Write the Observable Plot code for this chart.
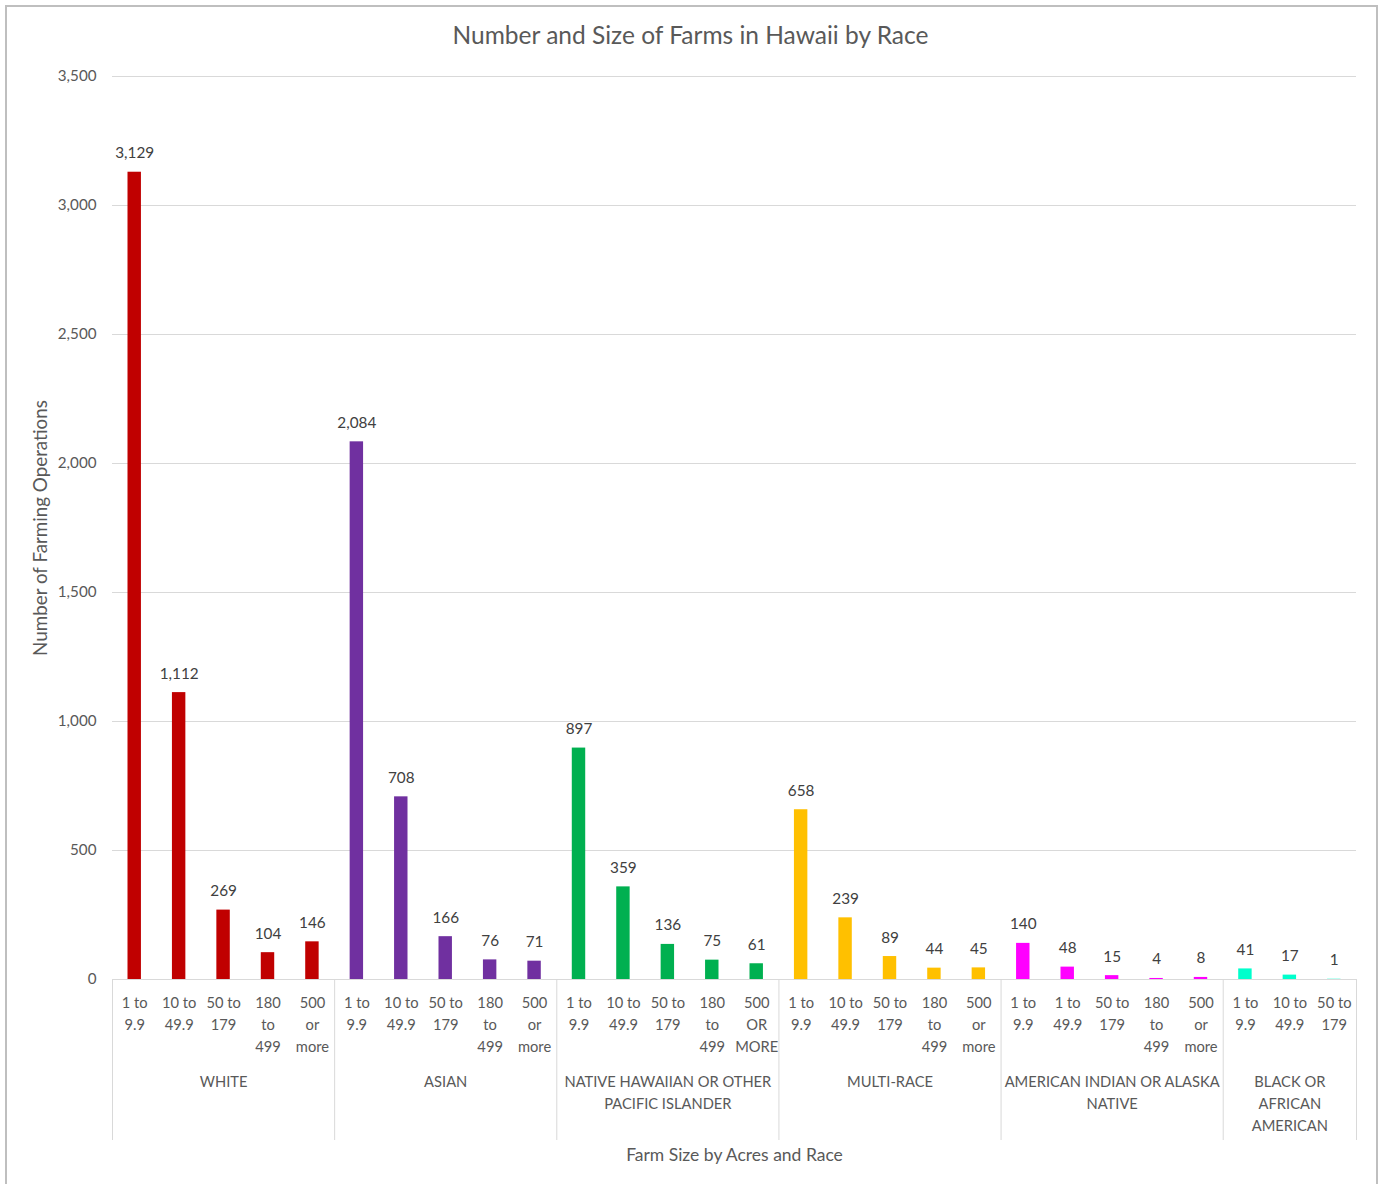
<!DOCTYPE html>
<html>
<head>
<meta charset="utf-8">
<script src="https://cdn.jsdelivr.net/npm/d3@7"></script>
<script src="https://cdn.jsdelivr.net/npm/@observablehq/plot@0.6"></script>
<style>
  html, body { margin: 0; padding: 0; background: #fff; }
  body { width: 1381px; height: 1184px; position: relative; overflow: hidden; font-family: Lato, "Open Sans", sans-serif; }
  #frame { position: absolute; left: 5px; top: 5px; width: 1373px; height: 1200px; border: 2px solid #bfbfbf; box-sizing: border-box; }
  #title { position: absolute; left: 0; top: 20px; width: 1381px; text-align: center; font-size: 24.5px; color: #595959; line-height: 30px; }
  #chart { position: absolute; left: 0; top: 60px; }
</style>
</head>
<body>
<div id="frame"></div>
<div id="title">Number and Size of Farms in Hawaii by Race</div>
<div id="chart"></div>
<script>
const groups = ["WHITE", "ASIAN", "NATIVE HAWAIIAN OR OTHER\nPACIFIC ISLANDER", "MULTI-RACE", "AMERICAN INDIAN OR ALASKA\nNATIVE", "BLACK OR\nAFRICAN\nAMERICAN"];
const groupColors = ["#c00000", "#7030a0", "#00b050", "#ffc000", "#ff00ff", "#00ffcc"];
const sizeLabels = [
  ["1 to\n9.9", "10 to\n49.9", "50 to\n179", "180\nto\n499", "500\nor\nmore"],
  ["1 to\n9.9", "10 to\n49.9", "50 to\n179", "180\nto\n499", "500\nor\nmore"],
  ["1 to\n9.9", "10 to\n49.9", "50 to\n179", "180\nto\n499", "500\nOR\nMORE"],
  ["1 to\n9.9", "10 to\n49.9", "50 to\n179", "180\nto\n499", "500\nor\nmore"],
  ["1 to\n9.9", "1 to\n49.9", "50 to\n179", "180\nto\n499", "500\nor\nmore"],
  ["1 to\n9.9", "10 to\n49.9", "50 to\n179"]
];
const values = [
  [3129, 1112, 269, 104, 146],
  [2084, 708, 166, 76, 71],
  [897, 359, 136, 75, 61],
  [658, 239, 89, 44, 45],
  [140, 48, 15, 4, 8],
  [41, 17, 1]
];
const yTicks = [0, 500, 1000, 1500, 2000, 2500, 3000, 3500];
const yTitle = "Number of Farming Operations";
const xTitle = "Farm Size by Acres and Race";

// Build a flat table from the arrays
const data = [];
const boundaries = [0];
const groupCenters = [];
let idx = 0;
groups.forEach((g, gi) => {
  const start = idx;
  values[gi].forEach((v, si) => {
    data.push({i: idx, group: g, color: groupColors[gi], label: sizeLabels[gi][si], value: v});
    idx++;
  });
  boundaries.push(idx);
  groupCenters.push({pos: (start + idx) / 2, label: g});
});
const labelByCenter = new Map(data.map(d => [d.i + 0.5, d.label]));
const groupByCenter = new Map(groupCenters.map(d => [d.pos, d.label]));

const textColor = "#595959";
const chart = Plot.plot({
  width: 1381,
  height: 1124,
  marginLeft: 112,
  marginRight: 25,
  marginTop: 16,
  marginBottom: 205,
  style: {fontFamily: "Lato, 'Open Sans', sans-serif", fontSize: "15px", color: textColor, background: "transparent"},
  x: {type: "linear", domain: [0, idx], axis: null},
  y: {domain: [0, 3500], axis: null},
  marks: [
    Plot.gridY(yTicks, {stroke: "#d9d9d9", strokeOpacity: 1, strokeWidth: 1.2}),
    Plot.axisY(yTicks, {tickSize: 0, tickPadding: 16, tickFormat: d3.format(","), fontSize: 15.2, label: null}),
    Plot.text([yTitle], {frameAnchor: "left", textAnchor: "middle", rotate: -90, dx: -72, fontSize: 18.8, fill: textColor}),
    Plot.ruleY([0], {stroke: "#d9d9d9", strokeWidth: 1.2}),
    Plot.rectY(data, {x1: "i", x2: d => d.i + 1, y: "value", fill: "color", insetLeft: 15.5, insetRight: 15.5}),
    Plot.text(data, {x: d => d.i + 0.5, y: "value", text: d => d3.format(",")(d.value), lineAnchor: "bottom", dy: -14, fill: "#404040", fontSize: 15.3}),
    Plot.axisX(boundaries, {tickSize: 161, tickFormat: () => "", stroke: "#d9d9d9", strokeOpacity: 1, label: null}),
    Plot.axisX(data.map(d => d.i + 0.5), {tickSize: 0, tickPadding: 13, lineHeight: 1.5, tickFormat: d => labelByCenter.get(d), label: null, fontSize: 14.7}),
    Plot.axisX(groupCenters.map(d => d.pos), {tickSize: 0, tickPadding: 92, lineHeight: 1.5, tickFormat: d => groupByCenter.get(d), fontSize: 14.7, label: null}),
    Plot.text([xTitle], {frameAnchor: "bottom", dy: 181, fontSize: 17.5, fill: textColor})
  ]
});
document.getElementById("chart").appendChild(chart);
</script>
</body>
</html>
